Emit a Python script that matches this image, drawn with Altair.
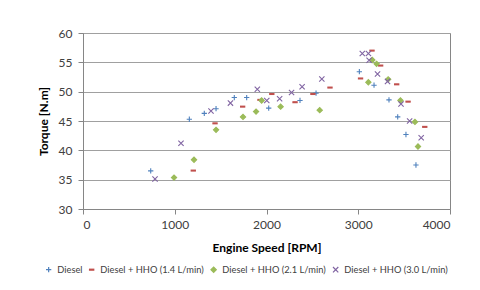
import altair as alt
import pandas as pd

series_names = ["Diesel", "Diesel + HHO (1.4 L/min)", "Diesel + HHO (2.1 L/min)", "Diesel + HHO (3.0 L/min)"]
series_colors = ["#4F81BD", "#C0504D", "#9BBB59", "#8064A2"]

diesel_rpm = [738, 1159, 1322, 1450, 1649, 1784, 2024, 2365, 2540, 3012, 3172, 3335, 3430, 3520, 3629]
diesel_tq = [36.5, 45.3, 46.3, 47.1, 49.0, 49.0, 47.2, 48.5, 49.75, 53.4, 51.1, 48.6, 45.7, 42.7, 37.5]

hho14_rpm = [1202, 1439, 1740, 1929, 2058, 2311, 2506, 2692, 3025, 3150, 3244, 3419, 3543, 3725]
hho14_tq = [36.55, 44.6, 47.45, 48.6, 49.6, 48.2, 49.6, 50.7, 52.25, 57.0, 54.45, 51.25, 48.3, 44.0]

hho21_rpm = [992, 1210, 1450, 1744, 1886, 1947, 2154, 2580, 3110, 3153, 3200, 3326, 3460, 3618, 3651]
hho21_tq = [35.35, 38.4, 43.5, 45.7, 46.6, 48.5, 47.45, 46.85, 51.6, 55.4, 54.75, 52.1, 48.5, 44.85, 40.65]

hho30_rpm = [785, 1068, 1395, 1607, 1900, 2003, 2143, 2273, 2388, 2603, 3044, 3111, 3118, 3210, 3319, 3466, 3560, 3686]
hho30_tq = [35.1, 41.2, 46.7, 48.05, 50.4, 48.5, 48.8, 49.85, 50.85, 52.15, 56.5, 56.5, 55.35, 53.0, 51.75, 47.9, 45.0, 42.15]

x_ticks = [0, 1000, 2000, 3000, 4000]
y_ticks = [30, 35, 40, 45, 50, 55, 60]

rows = []
for name, xs, ys in [
    (series_names[0], diesel_rpm, diesel_tq),
    (series_names[1], hho14_rpm, hho14_tq),
    (series_names[2], hho21_rpm, hho21_tq),
    (series_names[3], hho30_rpm, hho30_tq),
]:
    for a, b in zip(xs, ys):
        rows.append({"series": name, "rpm": a, "torque": b})
df = pd.DataFrame(rows)

shapes = [
    "M-1,0L1,0M0,-1L0,1",
    "M-0.8,-0.18L0.8,-0.18L0.8,0.18L-0.8,0.18Z",
    "diamond",
    "M-1,-1L1,1M-1,1L1,-1",
]

FONT = "Lato"
leg = alt.Legend(
    title=None, orient="none", direction="horizontal",
    legendX=-39, legendY=232, labelFont=FONT, labelFontSize=9.3,
    labelColor="#404040", symbolSize=28, symbolStrokeWidth=1.2,
    columnPadding=4, labelOffset=4,
)

chart = alt.Chart(df).mark_point(filled=True, strokeWidth=1.1, opacity=1, size=28).encode(
    x=alt.X("rpm:Q", scale=alt.Scale(domain=[0, 4000], nice=False),
            axis=alt.Axis(values=x_ticks, format="d", title="Engine Speed [RPM]", titleY=38,
                          titleBaseline="middle", labelPadding=5)),
    y=alt.Y("torque:Q", scale=alt.Scale(domain=[30, 60], nice=False, zero=False),
            axis=alt.Axis(values=y_ticks, title="Torque [N.m]", titleX=-40,
                          titleY=88, titleAngle=270, titleBaseline="middle",
                          titleAlign="center", labelPadding=6)),
    fill=alt.Fill("series:N", scale=alt.Scale(domain=series_names, range=series_colors), legend=leg),
    stroke=alt.Stroke("series:N", scale=alt.Scale(domain=series_names, range=series_colors), legend=leg),
    shape=alt.Shape("series:N", scale=alt.Scale(domain=series_names, range=shapes), legend=leg),
).properties(
    width=367, height=176,
    autosize=alt.AutoSizeParams(type="none"),
    padding={"left": 75, "top": 25, "right": 22, "bottom": 73},
).configure_view(
    stroke="#868686", strokeWidth=1
).configure_axis(
    grid=True, gridColor="#a0a0a0", gridWidth=1,
    domainColor="#868686", tickColor="#868686", tickSize=5,
    labelFont=FONT, labelFontSize=12, labelColor="#404040",
    titleFont=FONT, titleFontSize=12, titleFontWeight="bold", titleColor="#000000",
).configure_axisX(grid=False)

chart.save("out.html", embed_options={"renderer": "svg", "actions": False})
